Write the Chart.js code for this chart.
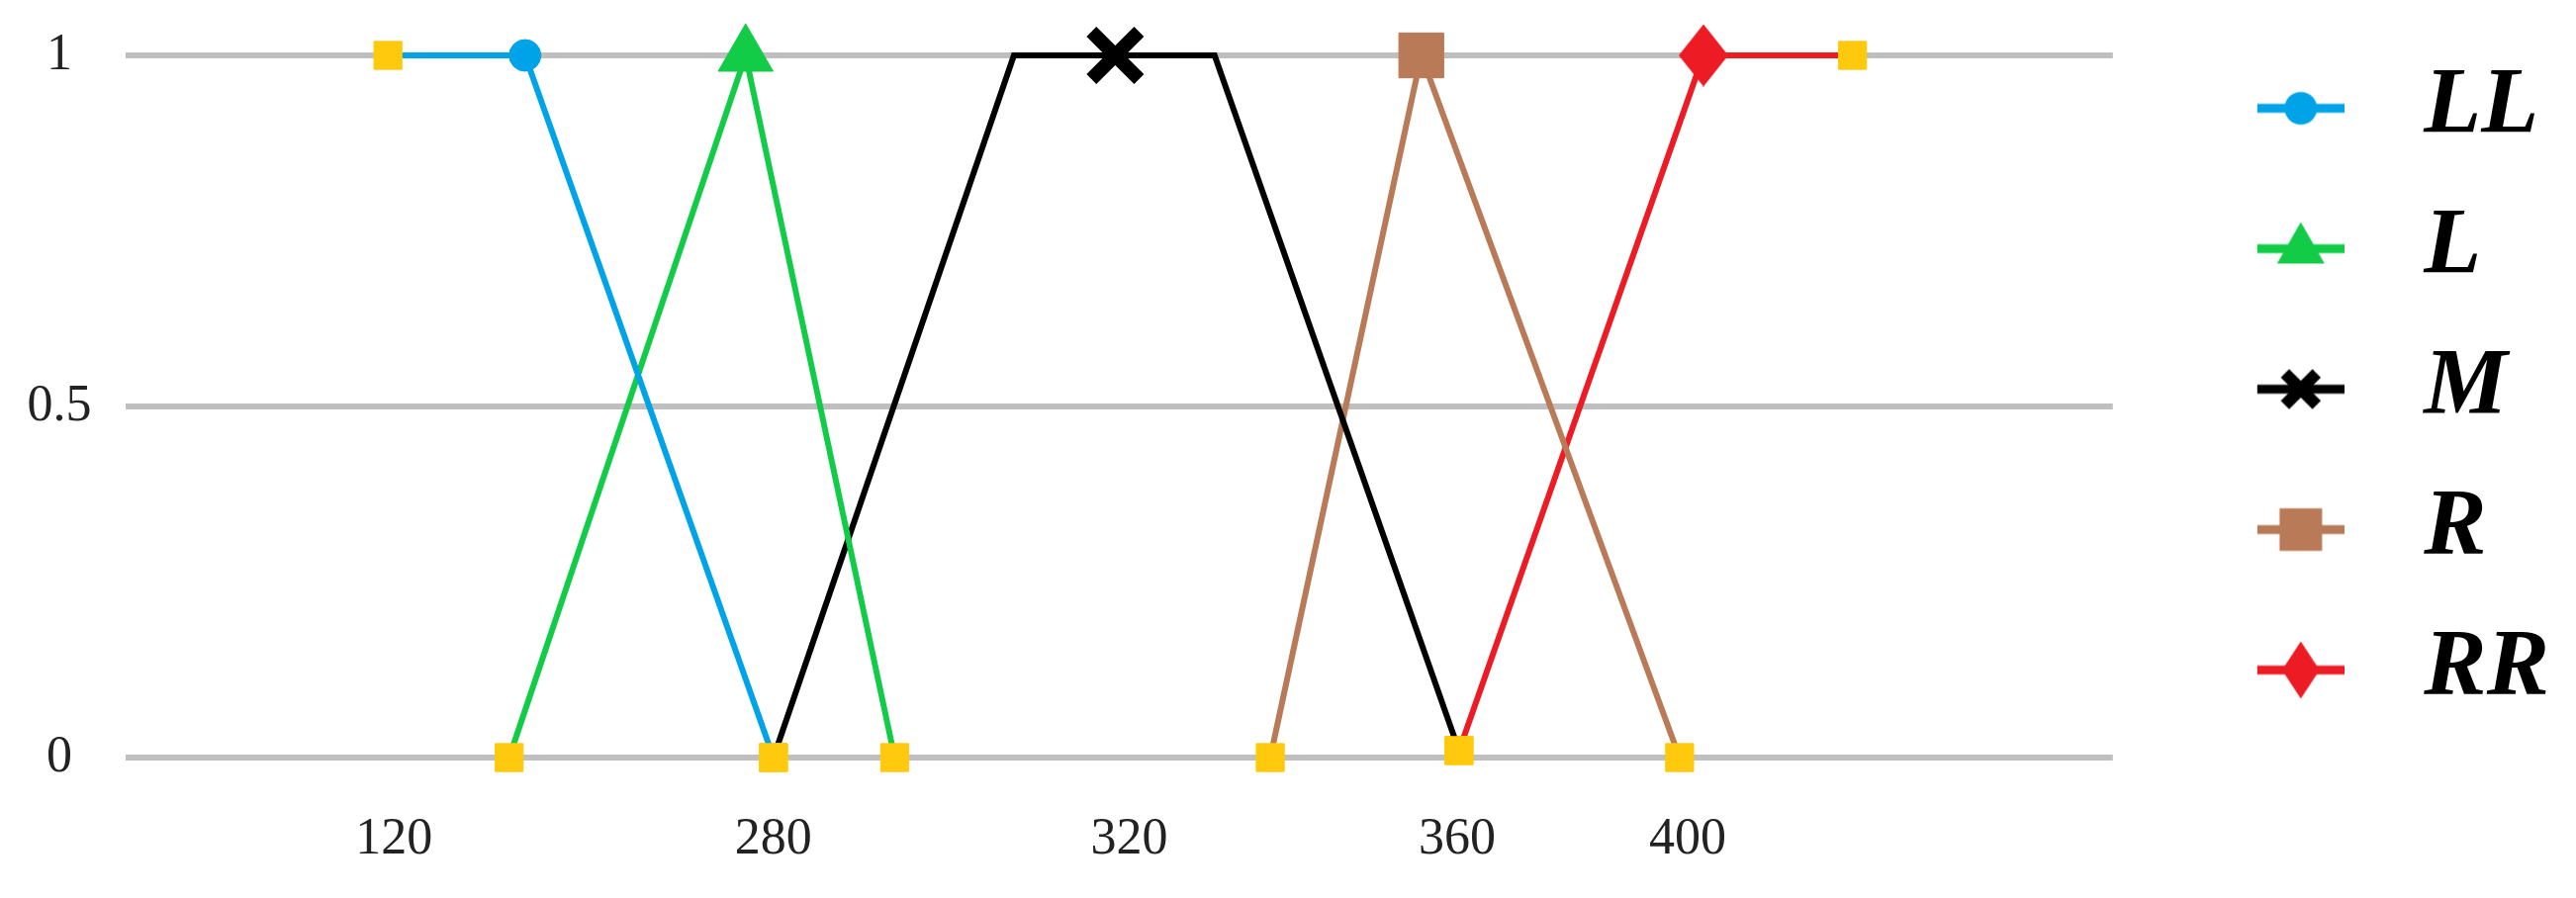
<!DOCTYPE html>
<html>
<head>
<meta charset="utf-8">
<title>Membership functions</title>
<script src="https://cdn.jsdelivr.net/npm/chart.js@4.4.1/dist/chart.umd.min.js"></script>
<style>
  html, body { margin: 0; padding: 0; background: #fff; }
  canvas { display: block; }
</style>
</head>
<body>
<canvas id="mfChart" width="2604" height="908"></canvas>
<script>
// x is a position along the drawn axis (0 = left end, 100 = right end),
// the axis labels are not evenly spaced in the original
const xTickPos = [13.5, 32.6, 50.5, 67.0, 78.6]
const xTickLabels = ["120", "280", "320", "360", "400"]
const yTicks = [0, 0.5, 1]

const seriesNames = ["LL", "L", "M", "R", "RR"]
const llX = [13.2, 20.1, 32.6]
const llY = [1, 1, 0]
const lX = [19.3, 31.2, 38.7]
const lY = [0, 1, 0]
const mX = [32.6, 44.7, 49.8, 54.8, 67.1]
const mY = [0, 1, 1, 1, 0.01]
const rX = [57.6, 65.2, 78.2]
const rY = [0, 1, 0]
const rrX = [67.1, 79.4, 86.9]
const rrY = [0.01, 1, 1]

document.addEventListener("DOMContentLoaded", function () {
  const colors = ["#00A2E8", "#12CC48", "#000000", "#B97A57", "#ED1C24"]
  const yellow = "#FFC90E"

  function diamond(w, h, color) {
    const c = document.createElement("canvas")
    c.width = w
    c.height = h
    const g = c.getContext("2d")
    g.fillStyle = color
    g.beginPath()
    g.moveTo(w / 2, 0)
    g.lineTo(w, h / 2)
    g.lineTo(w / 2, h)
    g.lineTo(0, h / 2)
    g.closePath()
    g.fill()
    return c
  }

  // line + marker picture for the legend, marker sits right of the image centre
  function legendIcon(i) {
    const c = document.createElement("canvas")
    c.width = 154
    c.height = 70
    const g = c.getContext("2d")
    const cx = 110
    const cy = 35
    g.strokeStyle = colors[i]
    g.fillStyle = colors[i]
    g.lineWidth = 9
    g.beginPath()
    g.moveTo(66, cy)
    g.lineTo(154, cy)
    g.stroke()
    g.beginPath()
    if (i === 0) {
      g.arc(cx, cy, 16.5, 0, Math.PI * 2)
      g.fill()
    } else if (i === 1) {
      g.moveTo(cx, cy - 27)
      g.lineTo(cx + 24, cy + 15)
      g.lineTo(cx - 24, cy + 15)
      g.closePath()
      g.fill()
    } else if (i === 2) {
      g.lineWidth = 12
      g.moveTo(cx - 16, cy - 16)
      g.lineTo(cx + 16, cy + 16)
      g.moveTo(cx - 16, cy + 16)
      g.lineTo(cx + 16, cy - 16)
      g.stroke()
    } else if (i === 3) {
      g.fillRect(cx - 21.5, cy - 21.5, 43, 43)
    } else {
      g.drawImage(diamond(38, 58, colors[i]), cx - 19, cy - 29)
    }
    return c
  }

  const markerStyle = ["circle", "triangle", "crossRot", "rect", diamond(50, 63, colors[4])]
  const markerRadius = [16, 32, 34, 32, 30]
  const xs = [llX, lX, mX, rX, rrX]
  const ys = [llY, lY, mY, rY, rrY]
  const icons = seriesNames.map(function (n, i) { return legendIcon(i) })

  function role(ctx) {
    const n = ctx.dataset.data.length
    if (ctx.dataIndex === 0 || ctx.dataIndex === n - 1) return "end"
    if (ctx.dataIndex === Math.floor(n / 2)) return "mark"
    return "none"
  }

  const datasets = seriesNames.map(function (name, i) {
    return {
      label: name,
      data: xs[i].map(function (x, j) { return { x: x, y: ys[i][j] } }),
      borderColor: colors[i],
      borderWidth: 6,
      tension: 0,
      fill: false,
      clip: false,
      pointStyle: function (ctx) {
        const r = role(ctx)
        return r === "mark" ? markerStyle[i] : "rect"
      },
      pointRadius: function (ctx) {
        const r = role(ctx)
        if (r === "end") return 20
        if (r === "mark") return markerRadius[i]
        return 0
      },
      pointBackgroundColor: function (ctx) {
        return role(ctx) === "end" ? yellow : colors[i]
      },
      pointBorderColor: function (ctx) {
        return role(ctx) === "end" ? yellow : colors[i]
      },
      pointBorderWidth: function (ctx) {
        return role(ctx) === "mark" && i === 2 ? 14 : 1
      },
    }
  })

  const tickFont = { family: "Liberation Serif", size: 52 }

  new Chart(document.getElementById("mfChart").getContext("2d"), {
    type: "line",
    data: { datasets: datasets },
    options: {
      responsive: false,
      animation: false,
      events: [],
      layout: { padding: { left: 27, right: 17, top: 15, bottom: 27 } },
      scales: {
        x: {
          type: "linear",
          min: 0,
          max: 100,
          grid: { display: false, drawTicks: false },
          border: { display: false },
          afterBuildTicks: function (scale) {
            scale.ticks = xTickPos.map(function (v) { return { value: v } })
          },
          afterFit: function (scale) {
            scale.height = 115
          },
          ticks: {
            autoSkip: false,
            maxRotation: 0,
            padding: 52,
            color: "#222",
            font: tickFont,
            callback: function (v) { return xTickLabels[xTickPos.indexOf(v)] },
          },
        },
        y: {
          min: 0,
          max: 1,
          grid: { color: "#BFBFBF", lineWidth: 6, drawTicks: false },
          border: { display: false },
          afterBuildTicks: function (scale) {
            scale.ticks = yTicks.map(function (v) { return { value: v } })
          },
          afterFit: function (scale) {
            scale.width = 100
            scale.paddingTop = 56
          },
          ticks: {
            padding: 34.5,
            crossAlign: "center",
            color: "#222",
            font: tickFont,
            callback: function (v) { return String(v) },
          },
        },
      },
      plugins: {
        tooltip: { enabled: false },
        legend: {
          position: "right",
          align: "start",
          labels: {
            usePointStyle: true,
            pointStyleWidth: 220,
            padding: 47,
            color: "#000",
            font: { family: "Liberation Serif", size: 95, style: "italic", weight: "bold" },
            generateLabels: function () {
              return seriesNames.map(function (name, i) {
                return {
                  text: name,
                  pointStyle: icons[i],
                  fillStyle: "rgba(0,0,0,0)",
                  strokeStyle: "rgba(0,0,0,0)",
                  lineWidth: 0,
                  hidden: false,
                  datasetIndex: i,
                }
              })
            },
          },
        },
      },
    },
  })
})
</script>
</body>
</html>
